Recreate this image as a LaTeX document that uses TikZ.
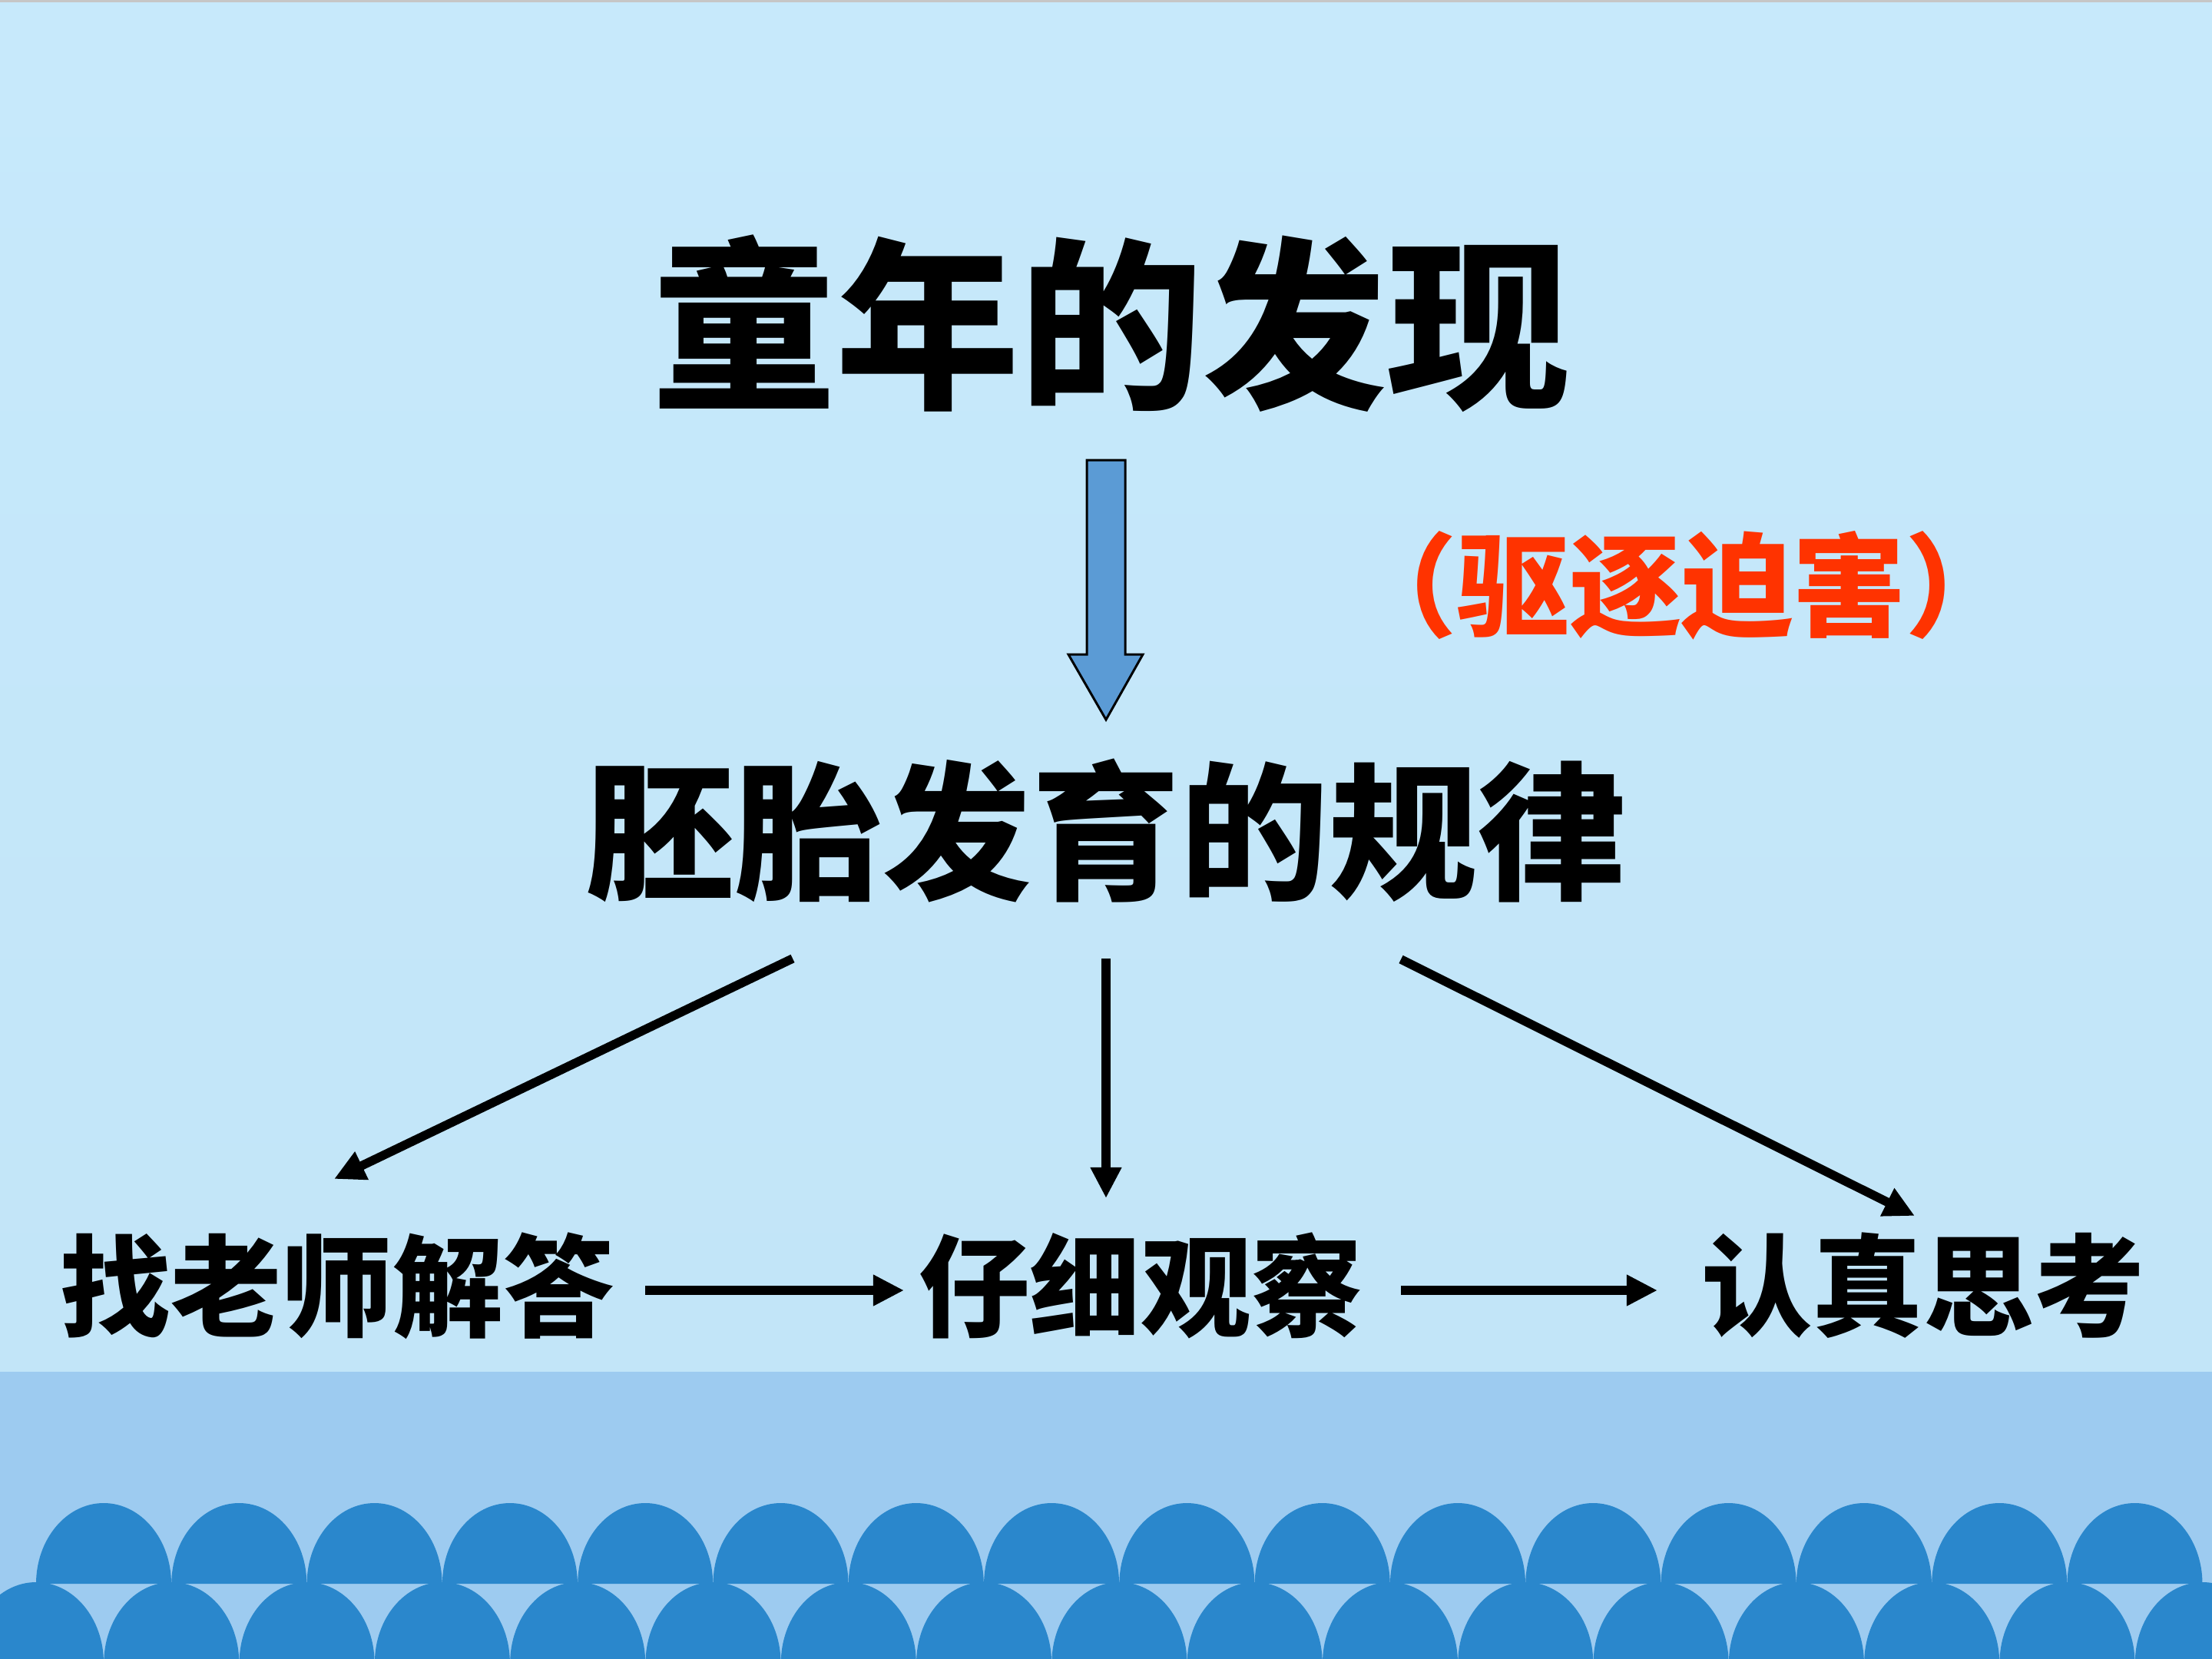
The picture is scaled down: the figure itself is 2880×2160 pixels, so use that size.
\documentclass[tikz,border=0pt]{standalone}
\usepackage{fontspec}
\newfontfamily\cjk{Noto Sans CJK SC}
\newfontfamily\cjkhalt{Noto Sans CJK SC}[RawFeature=+halt]
\usetikzlibrary{arrows.meta}
\definecolor{bgtop}{HTML}{C7E9FB}
\definecolor{bgbot}{HTML}{C2E5F8}
\definecolor{band}{HTML}{9DCBF0}
\definecolor{wave}{HTML}{2A87CC}
\definecolor{blockfill}{HTML}{5B9BD5}
\definecolor{notered}{HTML}{FF3300}
\begin{document}
\begin{tikzpicture}[x=0.01cm,y=-0.01cm,
  conn/.style={line width=0.115cm,-{Triangle[length=0.4cm,width=0.38cm]}},
  lbl/.style={inner sep=0pt,font=\cjk\bfseries\fontsize{41pt}{41pt}\selectfont},
  blockarrow/.style={fill=blockfill,draw=black,line width=0.03cm,line join=miter}]
\useasboundingbox (0,0) rectangle (2880,2160);
\begin{scope}
\clip (0,0) rectangle (2880,2160);
\shade[top color=bgtop,bottom color=bgbot] (0,0) rectangle (2880,1786);
\fill[gray!45] (0,0) rectangle (2880,3);
\fill[band] (0,1786) rectangle (2880,2160);
% lower row of waves
\foreach \k in {0,...,16} {
  \pgfmathsetmacro\cx{47+176.3*\k}
  \fill[wave] (\cx-88,2165) .. controls (\cx-88,2107) and (\cx-48.6,2060) .. (\cx,2060)
     .. controls (\cx+48.6,2060) and (\cx+88,2107) .. (\cx+88,2165) -- cycle;
}
% upper row of waves
\foreach \k in {0,...,15} {
  \pgfmathsetmacro\cx{135+176.3*\k}
  \fill[wave] (\cx-88,2062) .. controls (\cx-88,2004) and (\cx-48.6,1957) .. (\cx,1957)
     .. controls (\cx+48.6,1957) and (\cx+88,2004) .. (\cx+88,2062) -- cycle;
}
\end{scope}

% texts
\node[inner sep=0pt,font=\cjk\bfseries\fontsize{68pt}{68pt}\selectfont] (t) at (1447,421) {童年的发现};
\node[inner sep=0pt,font=\cjk\bfseries\fontsize{55pt}{55pt}\selectfont] (e) at (1440,1081) {胚胎发育的规律};
\node[inner sep=0pt,text=notered,font=\cjkhalt\bfseries\fontsize{41.5pt}{41.5pt}\selectfont] (r) at (2189,762) {（驱逐迫害）};
\node[lbl] (a) at (439,1674) {找老师解答};
\node[lbl] (b) at (1485,1674) {仔细观察};
\node[lbl] (c) at (2504,1674) {认真思考};

% block arrow from title to second line
\draw[blockarrow] (1415,599) -- (1465,599) -- (1465,852) -- (1488,852) -- (1440,937)
   -- (1391,852) -- (1415,852) -- cycle;

% connector end points
\coordinate (eL) at (1032,1248);
\coordinate (eM) at (1440,1248);
\coordinate (eR) at (1824,1249);
\coordinate (aT) at (435,1535);
\coordinate (bT) at (1440,1560);
\coordinate (cT) at (2493,1583);
\coordinate (aE) at (840,1680);
\coordinate (bW) at (1177,1680);
\coordinate (bE) at (1824,1680);
\coordinate (cW) at (2158,1680);

\draw[conn] (eL) -- (aT);
\draw[conn] (eM) -- (bT);
\draw[conn] (eR) -- (cT);
\draw[conn] (aE) -- (bW);
\draw[conn] (bE) -- (cW);
\end{tikzpicture}
\end{document}
